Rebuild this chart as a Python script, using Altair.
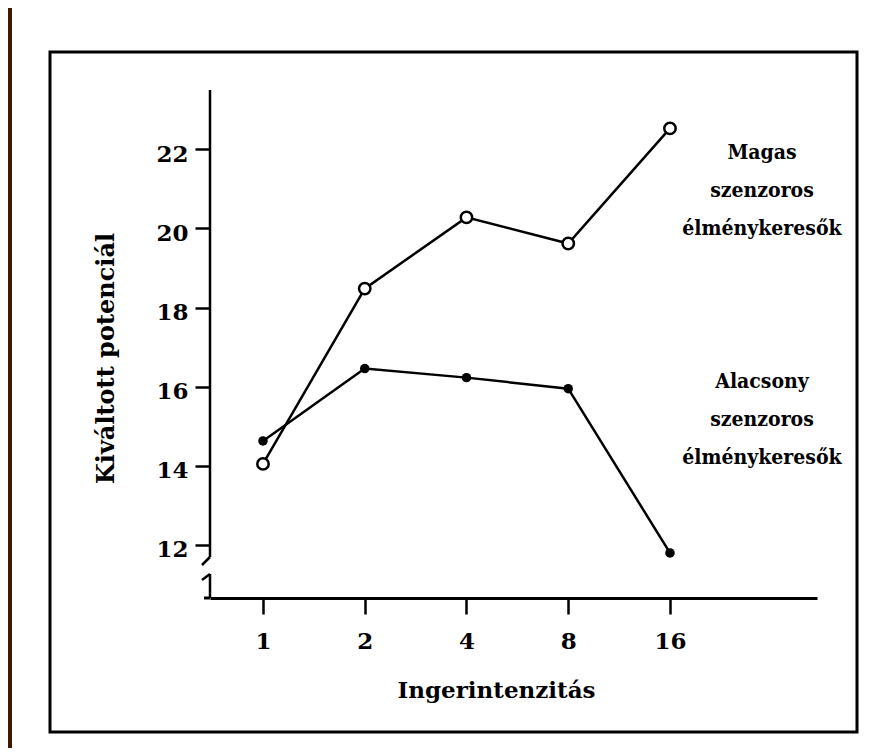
import altair as alt
import pandas as pd

# ---- data ----
intensity = [1, 2, 4, 8, 16]
high_seekers = [14.05, 18.48, 20.28, 19.62, 22.53]
low_seekers = [14.63, 16.46, 16.23, 15.95, 11.80]
y_ticks = [12, 14, 16, 18, 20, 22]
high_label = ["Magas", "szenzoros", "élménykeresők"]
low_label = ["Alacsony", "szenzoros", "élménykeresők"]
x_title = "Ingerintenzitás"
y_title = "Kiváltott potenciál"

df_high = pd.DataFrame({"x": intensity, "y": high_seekers})
df_low = pd.DataFrame({"x": intensity, "y": low_seekers})
one = pd.DataFrame({"a": [0]})

W, H = 607, 508
FONT = "DejaVu Serif"
FONT_C = "DejaVu Serif Condensed, DejaVu Serif"
BROWN = "#3f1905"

xscale = alt.Scale(type="log", base=2, domain=[0.697, 43.56])
yscale = alt.Scale(domain=[10.66, 23.5])

x_axis = alt.Axis(
    values=intensity, format="d", grid=False, zindex=1,
    domainColor="black", domainWidth=3,
    tickColor="black", tickSize=16, tickWidth=2.5,
    labelFont=FONT, labelFontSize=23, labelFontWeight="bold", labelColor="black",
    labelPadding=16, labelFlush=False, labelOverlap=False,
    title=x_title, titleFont=FONT, titleFontSize=23, titleFontWeight="bold",
    titleColor="black", titleX=286, titleY=92, titleAlign="center",
    titleBaseline="middle",
)
y_axis = alt.Axis(
    values=y_ticks, grid=False, domain=False, zindex=1,
    tickColor="black", tickSize=15, tickWidth=2.5,
    labelFont=FONT, labelFontSize=23, labelFontWeight="bold", labelColor="black",
    labelPadding=7, labelOffset=5, labelFlush=False,
    title=y_title, titleFont=FONT, titleFontSize=24, titleFontWeight="bold",
    titleColor="black", titleX=-104, titleY=268, titleAngle=270,
    titleAlign="center", titleBaseline="middle",
)

X = alt.X("x:Q", scale=xscale, axis=x_axis)
Y = alt.Y("y:Q", scale=yscale, axis=y_axis)

# decorations: brown page strip, frame box, broken y axis
strip = alt.Chart(one).mark_rect(color=BROWN).encode(
    x=alt.value(-202), x2=alt.value(-198), y=alt.value(-82), y2=alt.value(658))
frame = alt.Chart(one).mark_rect(fillOpacity=0, stroke="black", strokeWidth=3).encode(
    x=alt.value(-160), x2=alt.value(647), y=alt.value(-38), y2=alt.value(642))
axis_up = alt.Chart(one).mark_rule(color="black", strokeWidth=2.5).encode(
    x=alt.value(0), x2=alt.value(0), y=alt.value(0), y2=alt.value(467))
hook_up = alt.Chart(one).mark_rule(color="black", strokeWidth=2.5).encode(
    x=alt.value(0), x2=alt.value(-8), y=alt.value(467), y2=alt.value(475))
hook_lo = alt.Chart(one).mark_rule(color="black", strokeWidth=2.5).encode(
    x=alt.value(-8), x2=alt.value(0), y=alt.value(490), y2=alt.value(484))
axis_lo = alt.Chart(one).mark_rule(color="black", strokeWidth=2.5).encode(
    x=alt.value(0), x2=alt.value(0), y=alt.value(484), y2=alt.value(508))
x_ext = alt.Chart(one).mark_rule(color="black", strokeWidth=3).encode(
    x=alt.value(-6), x2=alt.value(0), y=alt.value(508), y2=alt.value(508))

line_high = alt.Chart(df_high).mark_line(color="black", strokeWidth=2.5).encode(x=X, y=Y)
line_low = alt.Chart(df_low).mark_line(color="black", strokeWidth=2.5).encode(x=X, y=Y)
pts_high = alt.Chart(df_high).mark_point(
    shape="circle", filled=True, fill="white", stroke="black", strokeWidth=2.5,
    size=130, opacity=1).encode(x=X, y=Y)
pts_low = alt.Chart(df_low).mark_point(
    shape="circle", filled=True, color="black", size=90, opacity=1).encode(x=X, y=Y)

txt_kw = dict(font=FONT_C, fontSize=21, fontWeight="bold", color="black",
              lineHeight=38, align="center", baseline="middle")
lab_high = alt.Chart(one).mark_text(text=high_label, **txt_kw).encode(
    x=alt.value(552), y=alt.value(63))
lab_low = alt.Chart(one).mark_text(text=low_label, **txt_kw).encode(
    x=alt.value(552), y=alt.value(292))

chart = alt.layer(
    strip, frame, axis_up, hook_up, hook_lo, axis_lo, x_ext,
    line_high, line_low, pts_high, pts_low, lab_high, lab_low,
).properties(
    width=W, height=H,
    padding={"left": 202, "top": 82, "right": 48, "bottom": 150},
    autosize="none",
    background="white",
).configure_view(strokeWidth=0)

chart.save("out.html", embed_options={"renderer": "svg", "actions": False})
